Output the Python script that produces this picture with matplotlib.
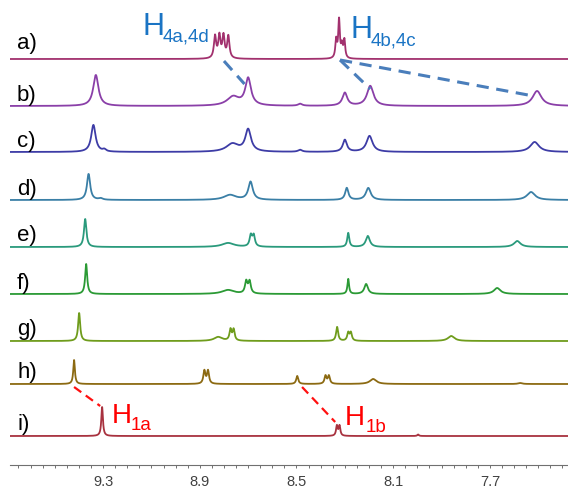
import numpy as np
import matplotlib.pyplot as plt

plt.rcParams['font.family'] = ['Liberation Sans', 'DejaVu Sans']

# ── Data: peak tables (ppm, height, half-width) for each titration step ──────
LABELS = ["a)", "b)", "c)", "d)", "e)", "f)", "g)", "h)", "i)"]
COLORS = ["#a2316e", "#8a3fa8", "#3d3ca6", "#3a7fa6", "#2a9a7c",
          "#2b9a35", "#6f9c1c", "#8c6a12", "#a8323f"]
OFFSETS = [406, 359, 313, 265, 218, 171, 124, 81, 29]

PEAKS_A = [(8.837, 22, 0.0055), (8.819, 22, 0.0055), (8.802, 22, 0.0055),
           (8.782, 22, 0.0055), (8.336, 18, 0.004), (8.324, 38, 0.004),
           (8.312, 12, 0.004), (8.302, 18, 0.004)]
PEAKS_B = [(9.33, 31, 0.013), (8.762, 9, 0.03), (8.70, 27, 0.014),
           (8.485, 2, 0.01), (8.30, 13, 0.012), (8.195, 20, 0.016),
           (7.505, 15, 0.022)]
PEAKS_C = [(9.34, 27, 0.011), (9.295, 2, 0.008), (8.765, 8, 0.03),
           (8.70, 22, 0.014), (8.485, 2, 0.01), (8.30, 12, 0.010),
           (8.198, 16, 0.015), (7.515, 10, 0.022)]
PEAKS_D = [(9.36, 26, 0.008), (9.31, 1.5, 0.01), (8.775, 5, 0.03),
           (8.69, 18, 0.011), (8.292, 12, 0.008), (8.203, 12, 0.012),
           (7.53, 8, 0.02)]
PEAKS_E = [(9.374, 28, 0.006), (8.783, 4, 0.03), (8.689, 11, 0.006),
           (8.677, 11, 0.006), (8.286, 14, 0.005), (8.205, 11, 0.010),
           (7.587, 6, 0.016)]
PEAKS_F = [(9.370, 30, 0.005), (8.783, 4, 0.03), (8.708, 12, 0.006),
           (8.694, 12, 0.006), (8.286, 15, 0.004), (8.212, 10, 0.009),
           (7.670, 6, 0.016)]
PEAKS_G = [(9.399, 28, 0.005), (8.824, 4, 0.02), (8.773, 11, 0.005),
           (8.760, 11, 0.005), (8.332, 14, 0.005), (8.286, 8, 0.005),
           (8.275, 8, 0.005), (7.860, 5, 0.016)]
PEAKS_H = [(9.420, 24, 0.004), (8.881, 13, 0.005), (8.866, 13, 0.005),
           (8.497, 8, 0.005), (8.380, 8, 0.005), (8.366, 8, 0.005),
           (8.183, 5, 0.016), (7.575, 1, 0.01)]
PEAKS_I = [(9.304, 29, 0.004), (8.333, 10, 0.004), (8.322, 10, 0.004),
           (7.997, 1.5, 0.004)]
PEAKS = [PEAKS_A, PEAKS_B, PEAKS_C, PEAKS_D, PEAKS_E, PEAKS_F,
         PEAKS_G, PEAKS_H, PEAKS_I]

# assignment links: (ppm_from, row_from, dy_from, ppm_to, row_to, dy_to)
BLUE_LINKS = [(8.80, 0, -2, 8.715, 1, 22),
              (8.32, 0, -1, 8.195, 1, 17),
              (8.32, 0, -1, 7.52, 1, 10)]
RED_LINKS = [(9.42, 7, -3, 9.312, 8, 30),
             (8.477, 7, -3, 8.34, 8, 14)]

XMIN, XMAX = 9.685, 7.377
TICKS = [9.3, 8.9, 8.5, 8.1, 7.7]


def spectrum(ppm, peaks):
    y = np.zeros_like(ppm)
    for x0, h, w in peaks:
        y += h * w**2 / ((ppm - x0)**2 + w**2)
    return y


ppm = np.linspace(XMIN, XMAX, 4000)

fig = plt.figure(figsize=(5.68, 4.89), dpi=100)
ax = fig.add_axes([10 / 568, 23 / 489, 558 / 568, 466 / 489])

for lab, col, off, pk in zip(LABELS, COLORS, OFFSETS, PEAKS):
    ax.plot(ppm, spectrum(ppm, pk) + off, color=col, lw=1.3)
    dy = 16 if lab == "a)" else 12
    ax.text(9.656, off + dy, lab, fontsize=16, ha="left", va="center")

for x0, r0, d0, x1, r1, d1 in BLUE_LINKS:
    ax.plot([x0, x1], [OFFSETS[r0] + d0, OFFSETS[r1] + d1], color="#4a7ebb",
            lw=2.2, ls=(0, (4, 2.5)))
for x0, r0, d0, x1, r1, d1 in RED_LINKS:
    ax.plot([x0, x1], [OFFSETS[r0] + d0, OFFSETS[r1] + d1], color="#ff1010",
            lw=1.6, ls=(0, (4, 2.5)))

# peak assignments
blue = "#1a74c4"
ax.text(9.135, 431, "H", color=blue, fontsize=22, va="baseline")
ax.text(9.052, 424, "4a,4d", color=blue, fontsize=13.5, va="baseline")
ax.text(8.278, 428, "H", color=blue, fontsize=22, va="baseline")
ax.text(8.195, 421, "4b,4c", color=blue, fontsize=13.5, va="baseline")
ax.text(9.263, 43, "H", color="#ff0000", fontsize=20, va="baseline")
ax.text(9.188, 36, "1a", color="#ff0000", fontsize=13.5, va="baseline")
ax.text(8.299, 41, "H", color="#ff0000", fontsize=20, va="baseline")
ax.text(8.216, 34, "1b", color="#ff0000", fontsize=13.5, va="baseline")

ax.set_xlim(XMIN, XMAX)
ax.set_ylim(0, 466)
for s in ["left", "right", "top"]:
    ax.spines[s].set_visible(False)
ax.spines["bottom"].set_color("#707070")
ax.spines["bottom"].set_linewidth(0.8)
ax.set_yticks([])
ax.set_xticks(TICKS)
ax.set_xticklabels([f"{t:.1f}" for t in TICKS])
ax.set_xticks(np.arange(7.4, 9.70, 0.05), minor=True)
ax.tick_params(axis="x", which="both", length=2, width=0.7, color="#707070",
               labelsize=10.5, labelcolor="#404040", pad=4.5)

fig.savefig("out.png", dpi=100)
